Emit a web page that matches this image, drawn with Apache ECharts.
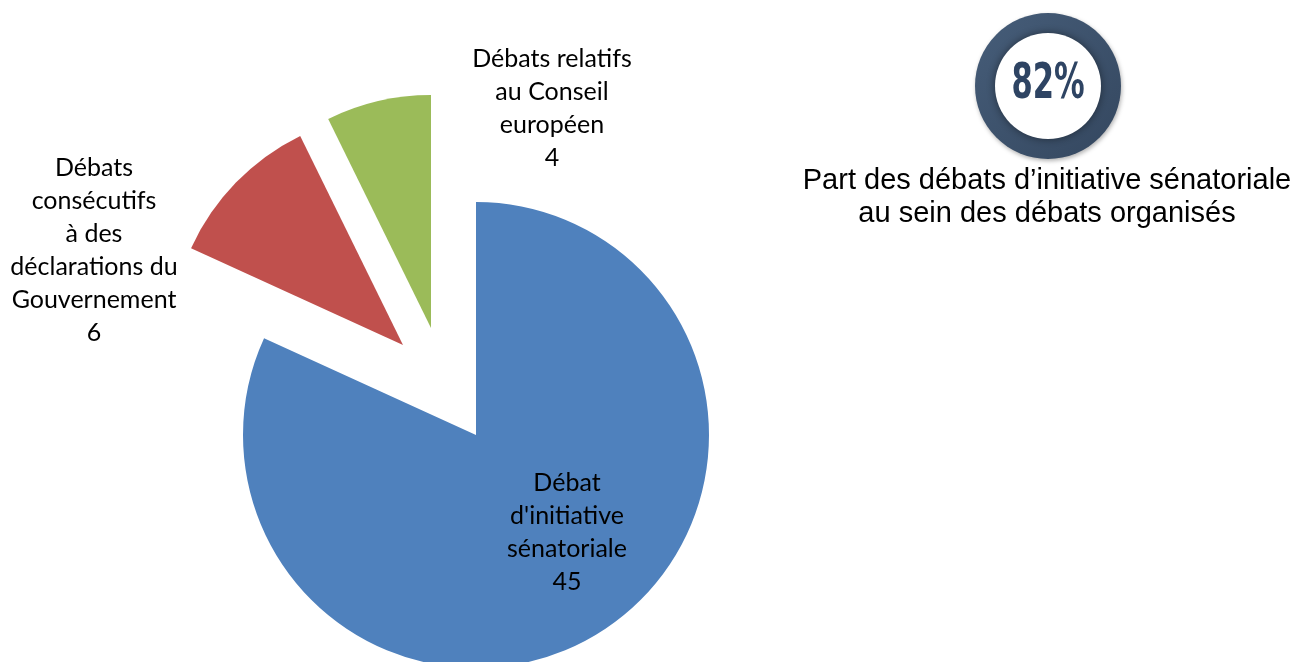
<!DOCTYPE html>
<html>
<head>
<meta charset="utf-8">
<title>Débats organisés</title>
<script src="https://cdn.jsdelivr.net/npm/echarts@6/dist/echarts.min.js"></script>
<style>
  html, body { margin: 0; padding: 0; background: #fff; }
  #main { width: 1298px; height: 662px; }
</style>
</head>
<body>
<div id="main"></div>
<script>
// données
var categories = ["Débat d'initiative sénatoriale", "Débats consécutifs à des déclarations du Gouvernement", "Débats relatifs au Conseil européen"];
var values = [45, 6, 4];
var labelLines = [
  ["Débat", "d'initiative", "sénatoriale"],
  ["Débats", "consécutifs", "à des", "déclarations du", "Gouvernement"],
  ["Débats relatifs", "au Conseil", "européen"]
];
var colors = ['#4f81bd', '#c0504d', '#9bbb59'];

// chaque part a son propre centre (parts éclatées)
var centers = [[476, 435], [403, 345], [431, 328]];
var labelPos = [[567, 532], [94, 250], [552, 108]];

var total = values.reduce(function (a, b) { return a + b; }, 0);
var share = Math.round(values[0] / total * 100) + '%';

var myChart = echarts.init(document.getElementById('main'));

var series = [];
for (var k = 0; k < values.length; k++) {
  (function (k) {
    series.push({
      type: 'pie',
      center: centers[k],
      radius: [0, 233],
      startAngle: 90,
      clockwise: true,
      silent: true,
      animation: false,
      avoidLabelOverlap: false,
      data: categories.map(function (name, i) {
        return {
          name: name,
          value: values[i],
          itemStyle: { color: i === k ? colors[i] : 'rgba(0,0,0,0)' },
          label: { show: i === k },
          labelLine: { show: false }
        };
      }),
      label: {
        position: 'inside',
        color: '#000',
        fontFamily: 'Lato',
        fontSize: 25,
        lineHeight: 33,
        align: 'center',
        formatter: function (p) {
          return labelLines[p.dataIndex].join('\n') + '\n' + p.value;
        }
      },
      labelLayout: {
        x: labelPos[k][0],
        y: labelPos[k][1],
        align: 'center',
        verticalAlign: 'middle'
      }
    });
  })(k);
}

var option = {
  backgroundColor: '#fff',
  series: series,
  graphic: [
    {
      type: 'circle',
      shape: { cx: 1048, cy: 86, r: 73 },
      style: {
        fill: new echarts.graphic.LinearGradient(0, 0, 1, 1, [
          { offset: 0, color: '#465d79' },
          { offset: 1, color: '#34475f' }
        ]),
        shadowBlur: 4,
        shadowColor: 'rgba(0,0,0,0.3)',
        shadowOffsetX: 1,
        shadowOffsetY: 2
      }
    },
    {
      type: 'circle',
      shape: { cx: 1048, cy: 86, r: 53 },
      style: {
        fill: '#fff',
        shadowBlur: 8,
        shadowColor: 'rgba(0,0,0,0.45)'
      }
    },
    {
      type: 'text',
      x: 1048,
      y: 85,
      scaleX: 0.68,
      style: {
        text: share,
        font: 'bold 50px "DejaVu Sans Condensed"',
        fill: '#2e4463',
        align: 'center',
        verticalAlign: 'middle'
      }
    },
    {
      type: 'text',
      x: 1047,
      y: 197,
      style: {
        text: 'Part des débats d’initiative sénatoriale\nau sein des débats organisés',
        font: '29px "Liberation Sans"',
        lineHeight: 33,
        fill: '#000',
        align: 'center',
        verticalAlign: 'middle'
      }
    }
  ]
};

myChart.setOption(option);
window.onresize = myChart.resize;
</script>
</body>
</html>
